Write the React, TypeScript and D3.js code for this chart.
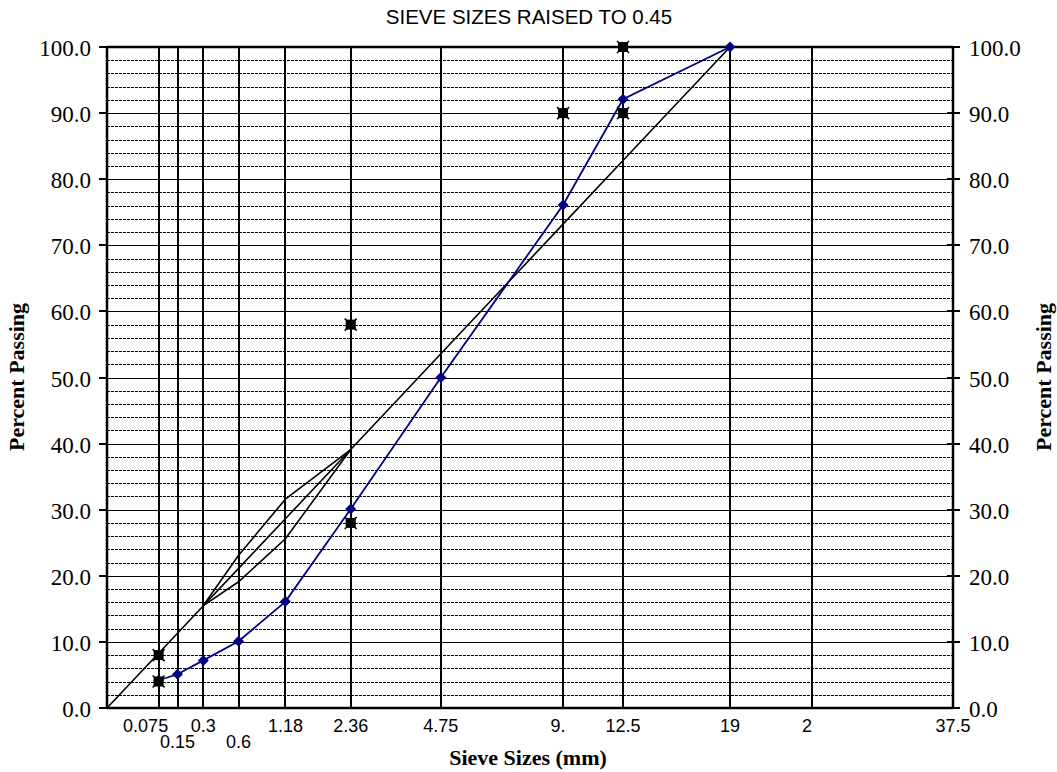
import React from "react";
import * as d3 from "d3";

// Sieve sizes (mm) used for the vertical grid and tick labels
const sieveSizes = [0.075, 0.15, 0.3, 0.6, 1.18, 2.36, 4.75, 9.5, 12.5, 19, 25, 37.5];
const sieveLabels = ["0.075", "0.15", "0.3", "0.6", "1.18", "2.36", "4.75", "9.", "12.5", "19", "2", "37.5"];
const sieveFullLabels = ["0.075", "0.15", "0.3", "0.6", "1.18", "2.36", "4.75", "9.5", "12.5", "19", "25", "37.5"];
const sieveLabelRow = [0, 1, 0, 1, 0, 0, 0, 0, 0, 0, 0, 0];

// Gradation of the blend
const gradSizes = [0.075, 0.15, 0.3, 0.6, 1.18, 2.36, 4.75, 9.5, 12.5, 19];
const gradPassing = [4.2, 5.1, 7.2, 10.1, 16.1, 30.1, 50.0, 76.1, 92.1, 100.0];

// Maximum density line
const mdlSizes = [0, 0.075, 0.15, 0.3, 0.6, 1.18, 2.36, 4.75, 9.5, 12.5, 19];

// Restricted zone boundaries
const rzSizes = [0.3, 0.6, 1.18, 2.36];
const rzUpper = [15.5, 23.1, 31.6, 39.1];
const rzLower = [15.5, 19.1, 25.6, 39.1];

// Control points
const cpSizes = [0.075, 0.075, 2.36, 2.36, 9.5, 12.5, 12.5];
const cpPassing = [4, 8, 28, 58, 90, 90, 100];

const yTicks = [0, 10, 20, 30, 40, 50, 60, 70, 80, 90, 100];

const W = 1057;
const H = 772;
const L = 107;
const R = 953;
const T = 47;
const B = 708;

export default function App() {
  const x = d3.scalePow().exponent(0.45).domain([0, 37.5]).range([L, R]);
  const y = d3.scaleLinear().domain([0, 100]).range([B, T]);
  const maxSize = 19;
  const mdl = mdlSizes.map((s) => [s, 100 * Math.pow(s / maxSize, 0.45)] as [number, number]);

  const line = d3
    .line<[number, number]>()
    .x((d) => x(d[0]))
    .y((d) => y(d[1]));

  const minor = d3.range(2, 100, 2).filter((v) => v % 10 !== 0);
  const crisp = (v: number) => Math.round(v) + 0.5;

  const serif = "'Liberation Serif', 'Times New Roman', serif";
  const sans = "'Liberation Sans', Arial, sans-serif";
  const xFont = 18;

  // Truncated labels keep the left edge their full text would have had
  const labelWidth = (t: string) =>
    t.split("").reduce((a, c) => a + (c === "." ? 0.278 : 0.556), 0) * xFont;

  return (
    <svg width={W} height={H} style={{ position: "absolute", left: 0, top: 0, background: "#fff" }}>
      <text x={(L + R) / 2 - 1} y={24} textAnchor="middle" fontFamily={sans} fontSize={20.5}>
        SIEVE SIZES RAISED TO 0.45
      </text>

      {/* horizontal grid */}
      {minor.map((v) => (
        <line
          key={"m" + v}
          x1={L}
          x2={R}
          y1={crisp(y(v))}
          y2={crisp(y(v))}
          stroke="#000"
          strokeWidth={1}
          strokeDasharray="3,1"
        />
      ))}
      {yTicks.map((v) => (
        <line key={"g" + v} x1={L} x2={R} y1={crisp(y(v))} y2={crisp(y(v))} stroke="#000" strokeWidth={1} />
      ))}

      {/* vertical sieve lines */}
      {sieveSizes.slice(0, -1).map((s) => (
        <line
          key={"v" + s}
          x1={Math.round(x(s))}
          x2={Math.round(x(s))}
          y1={T}
          y2={B}
          stroke="#000"
          strokeWidth={2}
        />
      ))}

      {/* frame */}
      <line x1={L} x2={R} y1={T} y2={T} stroke="#000" strokeWidth={2.5} />
      <line x1={L} x2={R} y1={B} y2={B} stroke="#000" strokeWidth={2.5} />
      <line x1={L} x2={L} y1={T} y2={B} stroke="#000" strokeWidth={2.5} />
      <line x1={R} x2={R} y1={T} y2={B} stroke="#000" strokeWidth={2.5} />

      {/* y ticks */}
      {yTicks.map((v) => (
        <g key={"t" + v}>
          <line x1={L - 8} x2={L} y1={Math.round(y(v))} y2={Math.round(y(v))} stroke="#000" strokeWidth={2} />
          <line x1={R - 6} x2={R + 7} y1={Math.round(y(v))} y2={Math.round(y(v))} stroke="#000" strokeWidth={2} />
          <text x={L - 16} y={y(v) + 9} textAnchor="end" fontFamily={serif} fontSize={23}>
            {v.toFixed(1)}
          </text>
          <text x={R + 16} y={y(v) + 9} textAnchor="start" fontFamily={serif} fontSize={23}>
            {v.toFixed(1)}
          </text>
        </g>
      ))}

      {/* x tick labels */}
      {sieveSizes.map((s, i) => {
        const full = sieveFullLabels[i];
        const shift = s === 0.075 ? -13 : 0;
        const left = x(s) - labelWidth(full) / 2 + shift;
        return (
          <text
            key={"xl" + s}
            x={left}
            y={sieveLabelRow[i] ? 748 : 732}
            textAnchor="start"
            fontFamily={sans}
            fontSize={xFont}
          >
            {sieveLabels[i]}
          </text>
        );
      })}

      {/* maximum density line */}
      <path d={line(mdl) || ""} fill="none" stroke="#000" strokeWidth={1.6} />

      {/* restricted zone */}
      <path d={line(rzSizes.map((s, i) => [s, rzUpper[i]])) || ""} fill="none" stroke="#000" strokeWidth={1.6} />
      <path d={line(rzSizes.map((s, i) => [s, rzLower[i]])) || ""} fill="none" stroke="#000" strokeWidth={1.6} />

      {/* blend gradation */}
      <path
        d={line(gradSizes.map((s, i) => [s, gradPassing[i]])) || ""}
        fill="none"
        stroke="#000080"
        strokeWidth={1.8}
      />
      {gradSizes.map((s, i) => {
        const cx = x(s);
        const cy = y(gradPassing[i]);
        const r = 5.5;
        return (
          <path
            key={"d" + s}
            d={`M${cx},${cy - r}L${cx + r},${cy}L${cx},${cy + r}L${cx - r},${cy}Z`}
            fill="#000080"
          />
        );
      })}

      {/* control points */}
      {cpSizes.map((s, i) => {
        const cx = x(s);
        const cy = y(cpPassing[i]);
        const h = 5;
        return (
          <g key={"c" + i}>
            <rect x={cx - h} y={cy - h} width={2 * h} height={2 * h} fill="#000" />
            <path
              d={`M${cx - h - 1},${cy - h - 1}L${cx + h + 1},${cy + h + 1}M${cx - h - 1},${cy + h + 1}L${cx + h + 1},${cy - h - 1}`}
              stroke="#000"
              strokeWidth={1.5}
            />
          </g>
        );
      })}

      {/* axis titles */}
      <text x={528} y={765} textAnchor="middle" fontFamily={serif} fontSize={22} fontWeight="bold">
        Sieve Sizes (mm)
      </text>
      <text
        transform={`translate(24,${377}) rotate(-90)`}
        textAnchor="middle"
        fontFamily={serif}
        fontSize={22}
        fontWeight="bold"
      >
        Percent Passing
      </text>
      <text
        transform={`translate(1051,${377}) rotate(-90)`}
        textAnchor="middle"
        fontFamily={serif}
        fontSize={22}
        fontWeight="bold"
      >
        Percent Passing
      </text>
    </svg>
  );
}
